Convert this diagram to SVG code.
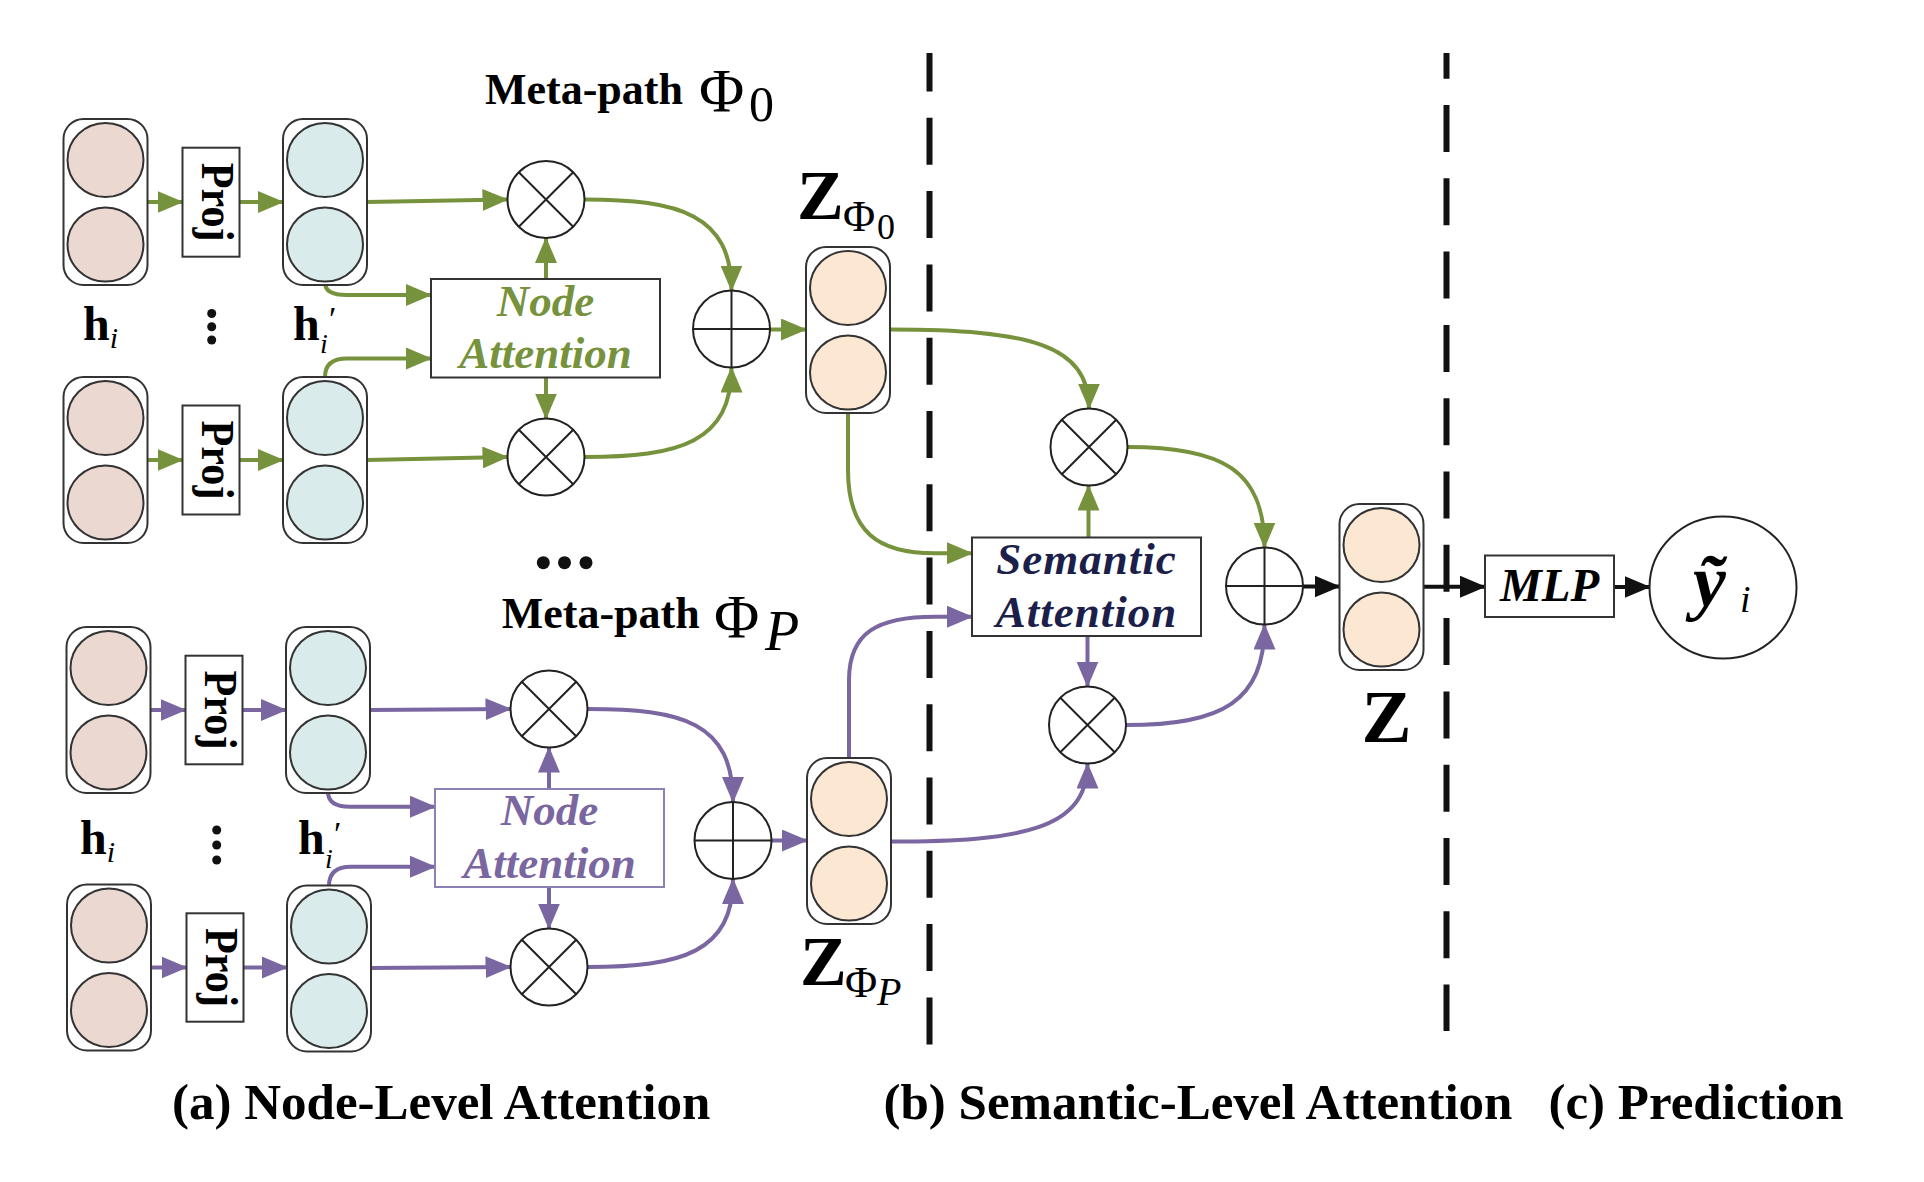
<svg xmlns="http://www.w3.org/2000/svg" xmlns:xlink="http://www.w3.org/1999/xlink" width="1924" height="1182" viewBox="0 0 1924 1182">
<style>
.col{fill:#fff;stroke:#333;stroke-width:2}
.pink{fill:#EBD8D1;stroke:#333;stroke-width:2}
.blue{fill:#DAEBEC;stroke:#333;stroke-width:2}
.peach{fill:#FCE7D3;stroke:#333;stroke-width:2}
.box{fill:#fff;stroke:#333;stroke-width:2}
.op{fill:#fff;stroke:#222;stroke-width:2}
.g{fill:none;stroke:#76923C;stroke-width:4}
.p{fill:none;stroke:#7A66A0;stroke-width:4}
.k{fill:none;stroke:#111;stroke-width:4}
.dash{stroke:#111;stroke-width:6;stroke-dasharray:47 26.3}
.t{font-family:"Liberation Serif","Times New Roman",serif}
.b{font-weight:bold}
.i{font-style:italic}
.dot{fill:#111}
</style>
<defs>
<marker id="ag" viewBox="0 0 26 22" refX="25" refY="11" markerWidth="26" markerHeight="22" markerUnits="userSpaceOnUse" orient="auto"><path d="M0,0 L26,11 L0,22 z" fill="#76923C"/></marker>
<marker id="ap" viewBox="0 0 26 22" refX="25" refY="11" markerWidth="26" markerHeight="22" markerUnits="userSpaceOnUse" orient="auto"><path d="M0,0 L26,11 L0,22 z" fill="#7A66A0"/></marker>
<marker id="ak" viewBox="0 0 26 22" refX="25" refY="11" markerWidth="26" markerHeight="22" markerUnits="userSpaceOnUse" orient="auto"><path d="M0,0 L26,11 L0,22 z" fill="#111"/></marker>
<g id="colPink"><rect class="col" x="-42" y="-83" width="84" height="166" rx="20"/><ellipse class="pink" cx="0" cy="-42" rx="38" ry="37"/><ellipse class="pink" cx="0" cy="42.5" rx="38" ry="37"/></g>
<g id="colBlue"><rect class="col" x="-42" y="-83" width="84" height="166" rx="20"/><ellipse class="blue" cx="0" cy="-42" rx="38" ry="37"/><ellipse class="blue" cx="0" cy="42.5" rx="38" ry="37"/></g>
<g id="colPeach"><rect class="col" x="-42" y="-83" width="84" height="166" rx="20"/><ellipse class="peach" cx="0" cy="-42" rx="38" ry="37"/><ellipse class="peach" cx="0" cy="42.5" rx="38" ry="37"/></g>
<g id="mulShape"><circle class="op" r="38.5"/><path d="M-27.2,-27.2 L27.2,27.2 M-27.2,27.2 L27.2,-27.2" stroke="#222" stroke-width="2"/></g>
<g id="addShape"><circle class="op" r="38.5"/><path d="M-38.5,0 H38.5 M0,-38.5 V38.5" stroke="#222" stroke-width="2"/></g>
</defs>
<rect width="1924" height="1182" fill="#fff"/>

<!-- dashed separators -->
<g id="separators">
<line class="dash" x1="929.5" y1="53" x2="929.5" y2="1047" stroke-dashoffset="8.5"/>
<line class="dash" x1="1446.5" y1="53" x2="1446.5" y2="1031" stroke-dashoffset="21.3"/>
</g>

<!-- connectors -->
<g id="connectors">
<!-- meta-path 0 (green) -->
<path class="g" d="M147.5,202 H182.5" marker-end="url(#ag)"/>
<path class="g" d="M239.5,202 H283" marker-end="url(#ag)"/>
<path class="g" d="M367,202 L507.5,199.5" marker-end="url(#ag)"/>
<path class="g" d="M147.5,460 H182.5" marker-end="url(#ag)"/>
<path class="g" d="M239.5,460 H283" marker-end="url(#ag)"/>
<path class="g" d="M367,460 L507.5,457" marker-end="url(#ag)"/>
<path class="g" d="M325,283 Q325,295 347,295 L431,295" marker-end="url(#ag)"/>
<path class="g" d="M325,377 Q325,358.5 347,358.5 L431,358.5" marker-end="url(#ag)"/>
<path class="g" d="M546,279 V238" marker-end="url(#ag)"/>
<path class="g" d="M546,377.5 V418.5" marker-end="url(#ag)"/>
<path class="g" d="M584.5,199.5 C680,199.5 731.5,215 731.5,290.5" marker-end="url(#ag)"/>
<path class="g" d="M584.5,457 C680,457 731.5,442 731.5,367.5" marker-end="url(#ag)"/>
<path class="g" d="M770,329.5 H806" marker-end="url(#ag)"/>
<!-- meta-path P (purple) -->
<path class="p" d="M150.5,710 H185.5" marker-end="url(#ap)"/>
<path class="p" d="M242.5,710 H286" marker-end="url(#ap)"/>
<path class="p" d="M370,710 L510.5,709" marker-end="url(#ap)"/>
<path class="p" d="M151,967.5 H186.5" marker-end="url(#ap)"/>
<path class="p" d="M243.5,967.5 H287" marker-end="url(#ap)"/>
<path class="p" d="M371,968 L510.5,967" marker-end="url(#ap)"/>
<path class="p" d="M328,792 Q328,806.7 350,806.7 L435,806.7" marker-end="url(#ap)"/>
<path class="p" d="M329,885.5 Q329,866.7 351,866.7 L435,866.7" marker-end="url(#ap)"/>
<path class="p" d="M549,789 V747.5" marker-end="url(#ap)"/>
<path class="p" d="M549,887 V928.5" marker-end="url(#ap)"/>
<path class="p" d="M587.5,709 C682,709 733,722 733,802" marker-end="url(#ap)"/>
<path class="p" d="M587.5,967 C682,967 733,952 733,879" marker-end="url(#ap)"/>
<path class="p" d="M771.5,840.5 H807" marker-end="url(#ap)"/>
<!-- semantic level -->
<path class="g" d="M890,329.5 C1030,329.5 1089,345 1089,408.5" marker-end="url(#ag)"/>
<path class="g" d="M848,413 L848,470 C848,532 878,553.3 935,553.3 L972,553.3" marker-end="url(#ag)"/>
<path class="p" d="M849,758 L849,680 C849,632 878,616.7 935,616.7 L972,616.7" marker-end="url(#ap)"/>
<path class="p" d="M891,841.5 C1020,841.5 1087.5,830 1087.5,763.5" marker-end="url(#ap)"/>
<path class="g" d="M1088.5,537.5 V485.5" marker-end="url(#ag)"/>
<path class="p" d="M1087.5,636 V686.5" marker-end="url(#ap)"/>
<path class="g" d="M1127.5,447 C1222,447 1264.5,470 1264.5,547.5" marker-end="url(#ag)"/>
<path class="p" d="M1126,725 C1222,725 1264.5,702 1264.5,624.5" marker-end="url(#ap)"/>
<!-- prediction -->
<path class="k" d="M1303,586.5 H1339.5" marker-end="url(#ak)"/>
<path class="k" d="M1423.5,586.7 H1485" marker-end="url(#ak)"/>
<path class="k" d="M1614,587 H1649.5" marker-end="url(#ak)"/>
</g>

<!-- meta-path 0 nodes -->
<g id="title0"><text class="t b" x="485" y="103.5" font-size="44">Meta-path <tspan x="699" y="111" font-weight="normal" font-size="62">Φ</tspan><tspan x="749" y="121" font-weight="normal" font-size="50">0</tspan></text></g>
<g id="h1in"><use xlink:href="#colPink" x="105.5" y="202"/></g>
<g id="proj1"><rect class="box" x="182.5" y="147.7" width="57" height="109"/><text class="t b" transform="translate(202,202.2) rotate(90)" text-anchor="middle" font-size="46" textLength="79" lengthAdjust="spacingAndGlyphs">Proj</text></g>
<g id="h1out"><use xlink:href="#colBlue" x="325" y="202"/></g>
<g id="h2in"><use xlink:href="#colPink" x="105.5" y="460"/></g>
<g id="proj2"><rect class="box" x="182.5" y="405.5" width="57" height="109"/><text class="t b" transform="translate(202,460) rotate(90)" text-anchor="middle" font-size="46" textLength="79" lengthAdjust="spacingAndGlyphs">Proj</text></g>
<g id="h2out"><use xlink:href="#colBlue" x="325" y="460"/></g>
<g id="label_hi_0"><text class="t b" x="83" y="339.5" font-size="48">h<tspan class="i" font-weight="normal" font-size="30" y="348">i</tspan></text></g>
<g id="vdots_0"><circle class="dot" cx="211.7" cy="313.5" r="4.5"/><circle class="dot" cx="211.7" cy="326.8" r="4.5"/><circle class="dot" cx="211.7" cy="340" r="4.5"/></g>
<g id="label_hpi_0"><text class="t b" x="293" y="339.5" font-size="48">h<tspan class="i" font-weight="normal" font-size="28" x="320" y="353">i</tspan><tspan font-weight="normal" font-size="34" x="329" y="330">′</tspan></text></g>
<g id="mul1"><use xlink:href="#mulShape" x="546" y="199.5"/></g>
<g id="mul2"><use xlink:href="#mulShape" x="546" y="457"/></g>
<g id="nodeAtt0"><rect class="box" x="431" y="279" width="229" height="98.5"/><text class="t b i" x="545.5" y="315.5" font-size="45" fill="#76923C" text-anchor="middle">Node</text><text class="t b i" x="545.5" y="368" font-size="45" fill="#76923C" text-anchor="middle">Attention</text></g>
<g id="add1"><use xlink:href="#addShape" x="731.5" y="329"/></g>
<g id="z0"><use xlink:href="#colPeach" x="848" y="330"/></g>
<g id="z0label"><text class="t b" x="797" y="218.5" font-size="70">Z<tspan font-weight="normal" font-size="44" x="843" y="231">Φ</tspan><tspan font-weight="normal" font-size="36" x="877" y="239">0</tspan></text></g>

<g id="moreDots"><circle class="dot" cx="543.3" cy="562.7" r="6.5"/><circle class="dot" cx="564.5" cy="562.7" r="6.5"/><circle class="dot" cx="586" cy="562.7" r="6.5"/></g>

<!-- meta-path P nodes -->
<g id="titleP"><text class="t b" x="501.7" y="628.3" font-size="44">Meta-path <tspan x="714" y="637" font-weight="normal" font-size="62">Φ</tspan><tspan x="765" y="650" class="i" font-weight="normal" font-size="56">P</tspan></text></g>
<g id="h3in"><use xlink:href="#colPink" x="108.5" y="710"/></g>
<g id="proj3"><rect class="box" x="185.5" y="655.7" width="57" height="108.6"/><text class="t b" transform="translate(205,710) rotate(90)" text-anchor="middle" font-size="46" textLength="79" lengthAdjust="spacingAndGlyphs">Proj</text></g>
<g id="h3out"><use xlink:href="#colBlue" x="328" y="710"/></g>
<g id="h4in"><use xlink:href="#colPink" x="109" y="967.5"/></g>
<g id="proj4"><rect class="box" x="186.5" y="913.3" width="57" height="108.4"/><text class="t b" transform="translate(206,967.5) rotate(90)" text-anchor="middle" font-size="46" textLength="79" lengthAdjust="spacingAndGlyphs">Proj</text></g>
<g id="h4out"><use xlink:href="#colBlue" x="329" y="968.5"/></g>
<g id="label_hi_P"><text class="t b" x="80" y="854" font-size="48">h<tspan class="i" font-weight="normal" font-size="30" y="862">i</tspan></text></g>
<g id="vdots_P"><circle class="dot" cx="216.7" cy="830" r="4.5"/><circle class="dot" cx="216.7" cy="845" r="4.5"/><circle class="dot" cx="216.7" cy="860" r="4.5"/></g>
<g id="label_hpi_P"><text class="t b" x="298" y="854" font-size="48">h<tspan class="i" font-weight="normal" font-size="28" x="325" y="868">i</tspan><tspan font-weight="normal" font-size="34" x="334" y="845">′</tspan></text></g>
<g id="mul3"><use xlink:href="#mulShape" x="549" y="709"/></g>
<g id="mul4"><use xlink:href="#mulShape" x="549" y="967"/></g>
<g id="nodeAttP"><rect x="435" y="789" width="229" height="98" fill="#fff" stroke="#8D80B5" stroke-width="2"/><text class="t b i" x="549.5" y="825" font-size="45" fill="#7A66A0" text-anchor="middle">Node</text><text class="t b i" x="549.5" y="878" font-size="45" fill="#7A66A0" text-anchor="middle">Attention</text></g>
<g id="add2"><use xlink:href="#addShape" x="733" y="840.5"/></g>
<g id="zP"><use xlink:href="#colPeach" x="849" y="841"/></g>
<g id="zPlabel"><text class="t b" x="800" y="985" font-size="70">Z<tspan font-weight="normal" font-size="44" x="845" y="997">Φ</tspan><tspan class="i" font-weight="normal" font-size="40" x="877" y="1005">P</tspan></text></g>

<!-- semantic level -->
<g id="mul5"><use xlink:href="#mulShape" x="1089" y="447"/></g>
<g id="semAtt"><rect class="box" x="972" y="537.5" width="229" height="98.5"/><text class="t b i" x="1086.5" y="573.5" font-size="45" fill="#1C1F4A" text-anchor="middle" letter-spacing="1">Semantic</text><text class="t b i" x="1086.5" y="626.5" font-size="45" fill="#1C1F4A" text-anchor="middle" letter-spacing="1">Attention</text></g>
<g id="mul6"><use xlink:href="#mulShape" x="1087.5" y="725"/></g>
<g id="add3"><use xlink:href="#addShape" x="1264.5" y="586"/></g>
<g id="zFinal"><use xlink:href="#colPeach" x="1381.5" y="587"/></g>
<g id="zlabel"><text class="t b" x="1386.5" y="741.5" font-size="75" text-anchor="middle">Z</text></g>

<!-- prediction -->
<g id="mlp"><rect class="box" x="1485" y="555.5" width="129" height="61.5"/><text class="t b i" x="1549.5" y="601" font-size="47" text-anchor="middle">MLP</text></g>
<g id="yhat"><ellipse cx="1723" cy="587.5" rx="73.5" ry="71" fill="#fff" stroke="#222" stroke-width="2"/><text class="t b i" x="1693" y="606" font-size="74">ỹ<tspan class="i" font-weight="normal" font-size="38" x="1740" y="612">i</tspan></text></g>

<!-- captions -->
<g id="captions">
<text class="t b" x="172" y="1119" font-size="51">(a) Node-Level Attention</text>
<text class="t b" x="883.5" y="1119" font-size="51">(b) Semantic-Level Attention</text>
<text class="t b" x="1548.5" y="1119" font-size="51">(c) Prediction</text>
</g>
</svg>
